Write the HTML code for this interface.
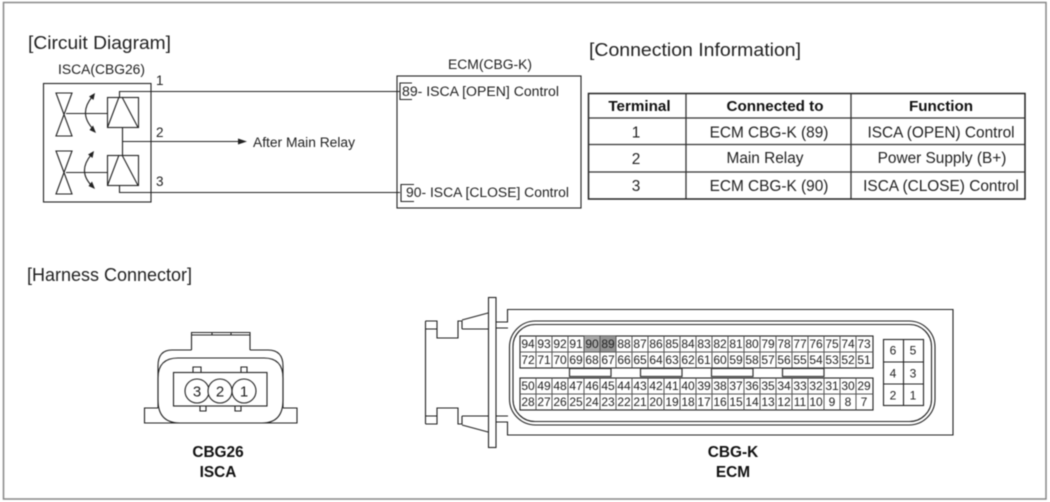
<!DOCTYPE html>
<html><head><meta charset="utf-8"><style>
html,body{margin:0;padding:0;background:#fff;width:1050px;height:502px;overflow:hidden}
svg{display:block;filter:blur(.45px)}
text{font-family:"Liberation Sans",sans-serif;fill:#222}
.l{font-size:18.5px}
.s{font-size:13.5px}
.h{font-size:15.200px;font-weight:bold;text-anchor:middle;fill:#111}
.t{font-size:15.400px;text-anchor:middle}
.p{font-size:12px;text-anchor:middle}
.q{font-size:12px;text-anchor:middle}
.b{font-size:15.400px;font-weight:bold;text-anchor:middle;fill:#111}
.w{fill:none;stroke:#222;stroke-width:1.100}
</style></head><body>
<svg width="1050" height="502" viewBox="0 0 1050 502" xmlns="http://www.w3.org/2000/svg">
<rect x="3.5" y="2.5" width="1042.5" height="496.5" fill="#fff" stroke="#888" stroke-width="1.5"/>

<text class="l" x="28" y="49" textLength="143" lengthAdjust="spacingAndGlyphs">[Circuit Diagram]</text>
<text class="l" x="589" y="56" textLength="212" lengthAdjust="spacingAndGlyphs">[Connection Information]</text>
<text class="l" x="27" y="281" textLength="165" lengthAdjust="spacingAndGlyphs">[Harness Connector]</text>

<!-- ISCA box -->
<text class="s" x="58" y="74" textLength="87" lengthAdjust="spacingAndGlyphs">ISCA(CBG26)</text>
<rect class="w" x="43.5" y="83.5" width="107.5" height="118.5" stroke-width="1.2"/>
<g class="w">
<path d="M119.5 97V91.5H400M119.5 185V192.5H400M122.5 127V155M122.5 141.5H241"/>
<rect x="107.5" y="97.5" width="31" height="30"/>
<rect x="107.5" y="155.5" width="31" height="30"/>
<path d="M119 97L107.5 127.5M122 97L138 127.5M119 155L107.5 185.5M122 155L138 185.5"/>
<path d="M56 93H72L56 136H72ZM56 151H72L56 194H72ZM66 113.5H107.5M66 172.5H107.5"/>
<path d="M92 97Q78 114 94 130M91 155Q77 172 93 187"/>
</g>
<path d="M247 141.5L238 138.5V144.5Z" fill="#222"/>
<path d="M95 93L89 96.500L93.500 100ZM96 133L89.500 130L93 125.500ZM94 151L88 154.500L92.500 158ZM95 189L88.500 186L92 181.500Z" fill="#222"/>
<text class="s" x="156" y="85">1</text>
<text class="s" x="156" y="137">2</text>
<text class="s" x="156" y="186">3</text>
<text class="s" x="253" y="147" textLength="102" lengthAdjust="spacingAndGlyphs">After Main Relay</text>

<!-- ECM box -->
<text class="s" x="448" y="69" textLength="84" lengthAdjust="spacingAndGlyphs">ECM(CBG-K)</text>
<rect class="w" x="397" y="76" width="184" height="132" stroke-width="1.3"/>
<path class="w" d="M412 83H400V99.500H412M414 184.500H401V201.500H414"/>
<text class="s" x="402" y="96" textLength="157" lengthAdjust="spacingAndGlyphs">89- ISCA [OPEN] Control</text>
<text class="s" x="406" y="197" textLength="163" lengthAdjust="spacingAndGlyphs">90- ISCA [CLOSE] Control</text>

<!-- table -->
<rect x="588.500" y="93.500" width="436.500" height="105.500" fill="none" stroke="#222" stroke-width="1.5"/>
<path d="M686 93.500V199M851 93.500V199M588.500 118H1025M588.500 144.500H1025M588.500 172H1025" fill="none" stroke="#333" stroke-width="1.300"/>
<text class="h" x="639.500" y="111">Terminal</text>
<text class="h" x="775" y="111">Connected to</text>
<text class="h" x="941" y="111">Function</text>
<text class="t" x="636" y="137.500">1</text>
<text class="t" x="769" y="137.500">ECM CBG-K (89)</text>
<text class="t" x="941" y="137.500">ISCA (OPEN) Control</text>
<text class="t" x="636" y="164">2</text>
<text class="t" x="765" y="163">Main Relay</text>
<text class="t" x="942" y="163">Power Supply (B+)</text>
<text class="t" x="636" y="191">3</text>
<text class="t" x="769" y="191">ECM CBG-K (90)</text>
<text class="t" x="941" y="191">ISCA (CLOSE) Control</text>

<!-- CBG26 connector -->
<g class="w" stroke-width="1.200">
<path d="M158 408H144.500V423H297V408H283"/>
<path d="M191.500 350V332.500H250V350M191.500 335H250M212 332.500V335M231 332.500V335"/>
<path d="M191.500 350H172Q158 350 158 366V408M250 350H268Q283 350 283 366V408"/>
<path d="M158 378Q158 358 178 358H264Q283 358 283 378V400Q283 423 262 423H180Q158 423 158 400Z"/>
<path d="M193 372V367H201V372M241 372V367H247V372M200 406V411H206V406M235 406V411H241V406"/>
<rect x="173.500" y="372.500" width="93.500" height="33.500"/>
<circle cx="197" cy="391" r="12" fill="#fff"/>
<circle cx="220" cy="391" r="12" fill="#fff"/>
<circle cx="244" cy="391" r="12" fill="#fff"/>
</g>
<text x="197" y="396.500" font-size="15" text-anchor="middle">3</text>
<text x="220" y="396.500" font-size="15" text-anchor="middle">2</text>
<text x="244" y="396.500" font-size="15" text-anchor="middle">1</text>
<text class="b" x="218" y="457">CBG26</text>
<text class="b" x="218" y="477">ISCA</text>

<!-- ECM connector -->
<g class="w" stroke-width="1.200">
<rect x="488.500" y="297.500" width="7.500" height="150"/>
<path d="M425.500 321V424M425.500 321H437V338H458V321H462V329M425.500 329H437M462 320L488 313M462 329H488M496 328H508"/>
<path d="M425.500 424H437V408H458V424H462V416M425.500 416H437M462 425L488 432M462 416H488M496 416H508"/>
<path d="M496 322H507.500V309.500H953V435H507.500V422H496"/>
<rect x="509.500" y="321" width="425.500" height="104" rx="26"/>
<rect x="513" y="324.500" width="418.500" height="97" rx="22"/>
<rect x="520" y="336" width="353" height="32"/>
<rect x="520" y="378" width="353" height="32"/>
</g>
<rect x="584" y="336" width="16" height="16" fill="#aaa"/>
<rect x="600" y="336" width="16" height="16" fill="#949494"/>
<path d="M520 352H873M520 394H873M536 336V368M552 336V368M568 336V368M584 336V368M600 336V368M616 336V368M632 336V368M648 336V368M664 336V368M680 336V368M696 336V368M712 336V368M728 336V368M744 336V368M760 336V368M776 336V368M792 336V368M808 336V368M824 336V368M840 336V368M856 336V368M536 378V410M552 378V410M568 378V410M584 378V410M600 378V410M616 378V410M632 378V410M648 378V410M664 378V410M680 378V410M696 378V410M712 378V410M728 378V410M744 378V410M760 378V410M776 378V410M792 378V410M808 378V410M824 378V410M840 378V410M856 378V410" fill="none" stroke="#555" stroke-width="1"/>
<g fill="#fff" stroke="#333" stroke-width="1.200">
<rect x="569.500" y="368.500" width="41.500" height="8"/>
<rect x="640.500" y="368.500" width="41.500" height="8"/>
<rect x="711.500" y="368.500" width="41.500" height="8"/>
<rect x="782.500" y="368.500" width="41.500" height="8"/>
</g>
<rect class="w" x="883.500" y="339.500" width="40" height="66"/>
<path class="w" d="M903.500 339.500V405.500M883.500 362H923.500M883.500 384H923.500"/>
<text class="q" x="893" y="354.500">6</text><text class="q" x="913" y="354.500">5</text>
<text class="q" x="893" y="377.500">4</text><text class="q" x="913" y="377.500">3</text>
<text class="q" x="893" y="399.500">2</text><text class="q" x="913" y="399.500">1</text>

<g>
<text class="p" x="528" y="348">94</text><text class="p" x="544" y="348">93</text><text class="p" x="560" y="348">92</text><text class="p" x="576" y="348">91</text><text class="p" x="592" y="348">90</text><text class="p" x="608" y="348">89</text><text class="p" x="624" y="348">88</text><text class="p" x="640" y="348">87</text><text class="p" x="656" y="348">86</text><text class="p" x="672" y="348">85</text><text class="p" x="688" y="348">84</text><text class="p" x="704" y="348">83</text><text class="p" x="720" y="348">82</text><text class="p" x="736" y="348">81</text><text class="p" x="752" y="348">80</text><text class="p" x="768" y="348">79</text><text class="p" x="784" y="348">78</text><text class="p" x="800" y="348">77</text><text class="p" x="816" y="348">76</text><text class="p" x="832" y="348">75</text><text class="p" x="848" y="348">74</text><text class="p" x="864" y="348">73</text>
<text class="p" x="528" y="364">72</text><text class="p" x="544" y="364">71</text><text class="p" x="560" y="364">70</text><text class="p" x="576" y="364">69</text><text class="p" x="592" y="364">68</text><text class="p" x="608" y="364">67</text><text class="p" x="624" y="364">66</text><text class="p" x="640" y="364">65</text><text class="p" x="656" y="364">64</text><text class="p" x="672" y="364">63</text><text class="p" x="688" y="364">62</text><text class="p" x="704" y="364">61</text><text class="p" x="720" y="364">60</text><text class="p" x="736" y="364">59</text><text class="p" x="752" y="364">58</text><text class="p" x="768" y="364">57</text><text class="p" x="784" y="364">56</text><text class="p" x="800" y="364">55</text><text class="p" x="816" y="364">54</text><text class="p" x="832" y="364">53</text><text class="p" x="848" y="364">52</text><text class="p" x="864" y="364">51</text>
<text class="p" x="528" y="390">50</text><text class="p" x="544" y="390">49</text><text class="p" x="560" y="390">48</text><text class="p" x="576" y="390">47</text><text class="p" x="592" y="390">46</text><text class="p" x="608" y="390">45</text><text class="p" x="624" y="390">44</text><text class="p" x="640" y="390">43</text><text class="p" x="656" y="390">42</text><text class="p" x="672" y="390">41</text><text class="p" x="688" y="390">40</text><text class="p" x="704" y="390">39</text><text class="p" x="720" y="390">38</text><text class="p" x="736" y="390">37</text><text class="p" x="752" y="390">36</text><text class="p" x="768" y="390">35</text><text class="p" x="784" y="390">34</text><text class="p" x="800" y="390">33</text><text class="p" x="816" y="390">32</text><text class="p" x="832" y="390">31</text><text class="p" x="848" y="390">30</text><text class="p" x="864" y="390">29</text>
<text class="p" x="528" y="406">28</text><text class="p" x="544" y="406">27</text><text class="p" x="560" y="406">26</text><text class="p" x="576" y="406">25</text><text class="p" x="592" y="406">24</text><text class="p" x="608" y="406">23</text><text class="p" x="624" y="406">22</text><text class="p" x="640" y="406">21</text><text class="p" x="656" y="406">20</text><text class="p" x="672" y="406">19</text><text class="p" x="688" y="406">18</text><text class="p" x="704" y="406">17</text><text class="p" x="720" y="406">16</text><text class="p" x="736" y="406">15</text><text class="p" x="752" y="406">14</text><text class="p" x="768" y="406">13</text><text class="p" x="784" y="406">12</text><text class="p" x="800" y="406">11</text><text class="p" x="816" y="406">10</text><text class="p" x="832" y="406">9</text><text class="p" x="848" y="406">8</text><text class="p" x="864" y="406">7</text>
</g>
<text class="b" x="733" y="457">CBG-K</text>
<text class="b" x="733" y="477">ECM</text>
</svg>
</body></html>
